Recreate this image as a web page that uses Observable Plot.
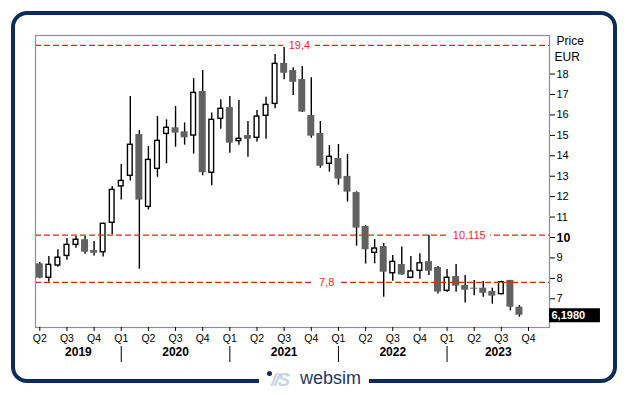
<!DOCTYPE html>
<html><head><meta charset="utf-8">
<script src="https://cdn.jsdelivr.net/npm/d3@7"></script>
<script src="https://cdn.jsdelivr.net/npm/@observablehq/plot@0.6"></script>
<style>
body{margin:0;background:#fff;}
#wrap{position:relative;width:629px;height:395px;overflow:hidden;font-family:"Liberation Sans",Arial,sans-serif;}
#chart{position:absolute;left:0;top:0;}
#card{position:absolute;left:11px;top:11px;width:598px;height:364px;border:4px solid #0d2c5c;border-radius:16px;pointer-events:none;}
#logo{position:absolute;left:259px;top:367px;width:110px;height:27px;background:#fff;}
#logo .dot{position:absolute;left:8px;top:4px;width:5px;height:5px;border-radius:50%;background:#0d2c5c;}
#logo .mark{position:absolute;left:12px;top:2px;font:italic bold 19px "Liberation Sans",Arial,sans-serif;color:#c9d4e0;letter-spacing:-2px;}
#logo .word{position:absolute;left:41px;top:1px;font:18px "Liberation Sans",Arial,sans-serif;color:#1c3769;}
</style>
</head><body>
<div id="wrap"><div id="chart"></div><div id="card"></div>
<div id="logo"><div class="dot"></div><div class="mark">//S</div><div class="word">websim</div></div></div>
<script>
// Monthly candles (EUR)
const months = ["2019-04","2019-05","2019-06","2019-07","2019-08","2019-09","2019-10","2019-11","2019-12",
"2020-01","2020-02","2020-03","2020-04","2020-05","2020-06","2020-07","2020-08","2020-09","2020-10","2020-11","2020-12",
"2021-01","2021-02","2021-03","2021-04","2021-05","2021-06","2021-07","2021-08","2021-09","2021-10","2021-11","2021-12",
"2022-01","2022-02","2022-03","2022-04","2022-05","2022-06","2022-07","2022-08","2022-09","2022-10","2022-11","2022-12",
"2023-01","2023-02","2023-03","2023-04","2023-05","2023-06","2023-07","2023-08","2023-09"];
const open  = [8.71,8.03,8.63,9.10,9.64,9.89,9.36,9.28,10.72,12.50,13.02,15.04,11.50,13.36,15.07,15.37,15.17,14.99,17.15,13.17,15.81,16.36,14.72,14.99,14.88,15.96,16.54,18.52,18.17,17.73,15.97,15.09,13.61,13.87,12.99,12.20,10.54,9.25,9.56,8.25,8.68,8.03,8.37,8.82,8.53,7.39,8.09,7.65,7.52,7.52,7.36,7.23,7.90,6.59];
const high  = [8.78,9.07,9.40,9.95,10.05,10.05,9.80,10.70,12.50,13.57,16.90,15.24,14.45,15.92,15.76,16.41,15.61,17.78,18.17,16.10,16.74,16.90,16.71,15.68,16.22,16.87,18.96,19.40,18.31,18.37,17.82,15.68,14.50,14.55,14.06,12.24,10.59,9.90,9.71,9.12,9.53,9.07,9.20,10.115,8.58,8.43,8.68,8.14,7.90,7.85,7.52,7.86,7.90,6.67];
const low   = [7.98,7.81,8.55,8.89,9.48,9.18,9.09,9.04,10.15,11.83,12.76,8.45,11.35,12.95,13.61,14.42,14.52,14.08,13.02,12.53,15.30,14.13,14.52,13.93,14.67,14.81,16.30,17.72,16.95,16.12,14.86,13.39,13.20,12.56,11.73,9.58,8.70,8.71,7.08,7.86,8.15,7.98,7.96,8.14,7.24,7.32,7.32,6.79,7.15,7.08,6.74,7.19,6.41,6.10];
const close = [8.01,8.66,9.01,9.64,9.89,9.28,9.23,10.67,12.33,12.77,14.54,11.83,13.80,14.73,15.37,15.11,14.88,17.08,13.17,15.76,16.30,14.62,14.83,14.81,15.92,16.49,18.50,18.04,17.60,16.14,14.96,13.49,13.95,12.86,12.22,10.46,9.40,9.46,8.30,8.81,8.17,8.34,8.74,8.35,7.33,8.03,7.62,7.42,7.47,7.27,7.13,7.81,6.59,6.198];

const quarterLabels = ["Q2","Q3","Q4","Q1","Q2","Q3","Q4","Q1","Q2","Q3","Q4","Q1","Q2","Q3","Q4","Q1","Q2","Q3","Q4"];
const years = ["2019","2020","2021","2022","2023"];
const levelValues = [19.4, 10.115, 7.8];
const levelLabels = ["19,4", "10,115", "7,8"];
const yTickValues = [7, 8, 9, 11, 12, 13, 14, 15, 16, 17, 18];
const yBoldTick = [10];
const lastLabel = "6,1980";

const candles = months.map((m, i) => ({i, m, o: open[i], h: high[i], l: low[i], c: close[i], up: close[i] > open[i]}));
const xMin = -0.475, xMax = 56.32;
const quarterTicks = quarterLabels.map((q, k) => k * 3);
const qMap = new Map(quarterTicks.map((t, k) => [t, quarterLabels[k]]));
const yearStarts = years.map(y => months.findIndex(m => m.startsWith(y) && m.endsWith("-01")));
const yearInfo = years.map((y, k) => {
  const s = k === 0 ? xMin : yearStarts[k];
  const e = k < years.length - 1 ? yearStarts[k + 1] : xMax;
  return {y, c: (s + e) / 2};
});
const sepTicks = yearStarts.filter(v => v > 0);
const labelAt = [28.68, 47.45, 31.69];
const levels = levelValues.map((v, k) => ({v, label: levelLabels[k],
  lx: labelAt[k], hw: (levelLabels[k].length * 5.5 + 10) / 2 / 9.056}));
const lastClose = close[close.length - 1];

const red = "#e5231d";
const chart = Plot.plot({
  width: 629, height: 395,
  marginLeft: 35, marginRight: 80, marginTop: 35, marginBottom: 68,
  style: {background: "transparent", fontFamily: "'Liberation Sans', Arial, sans-serif", color: "#000", overflow: "visible"},
  x: {type: "linear", domain: [xMin, xMax], axis: null, label: null},
  y: {domain: [5.595, 19.888], axis: null, label: null},
  marks: [
    Plot.ruleX(candles, {x: "i", y1: "l", y2: "h", stroke: "#000", strokeWidth: 1.4}),
    Plot.rect(candles.filter(d => !d.up), {x1: d => d.i - 0.385, x2: d => d.i + 0.385, y1: "o", y2: "c", fill: "#616161"}),
    Plot.rect(candles.filter(d => d.up), {x1: d => d.i - 0.26, x2: d => d.i + 0.26, y1: "o", y2: "c", fill: "#fff", stroke: "#000", strokeWidth: 1.4}),
    Plot.ruleY(levels, {y: "v", stroke: red, strokeWidth: 1.2, strokeDasharray: "6,3"}),
    Plot.ruleY(levels, {y: "v", x1: d => d.lx - d.hw, x2: d => d.lx + d.hw, stroke: "#fff", strokeWidth: 3}),
    Plot.text(levels, {x: "lx", y: "v", text: "label", fill: "#f22a2e", fontSize: 11}),
    Plot.frame({stroke: "#8e8e9e", strokeWidth: 1.2}),
    Plot.axisY(yTickValues, {anchor: "right", tickSize: 5, tickPadding: 2, fontSize: 11, label: null}),
    Plot.axisY(yBoldTick, {anchor: "right", tickSize: 5, tickPadding: 2, fontSize: 12.5, fontWeight: "bold", label: null}),
    Plot.axisX(quarterTicks, {anchor: "bottom", tickSize: 4, tickPadding: 3, fontSize: 10.5, tickFormat: d => qMap.get(d), label: null}),
    Plot.axisX(sepTicks, {anchor: "bottom", tickSize: 16, tickFormat: () => "", dy: 19, label: null}),
    Plot.text(yearInfo, {x: "c", text: "y", frameAnchor: "bottom", dy: 28, fontWeight: "bold", fontSize: 12}),
    Plot.text(["Price"], {frameAnchor: "top-right", lineAnchor: "middle", dx: 7, dy: 6, textAnchor: "start", fontSize: 12, text: d => d}),
    Plot.text(["EUR"], {frameAnchor: "top-right", lineAnchor: "middle", dx: 5, dy: 22, textAnchor: "start", fontSize: 12, text: d => d}),
    Plot.ruleY([lastClose], {y: d => d, x1: xMax, x2: xMax + 5.63, stroke: "#000", strokeWidth: 14}),
    Plot.text([lastLabel], {x: xMax, y: lastClose, dx: 2, textAnchor: "start", fill: "#fff", fontWeight: "bold", fontSize: 11, text: d => d})
  ]
});
document.getElementById("chart").appendChild(chart);
</script>
</body></html>
